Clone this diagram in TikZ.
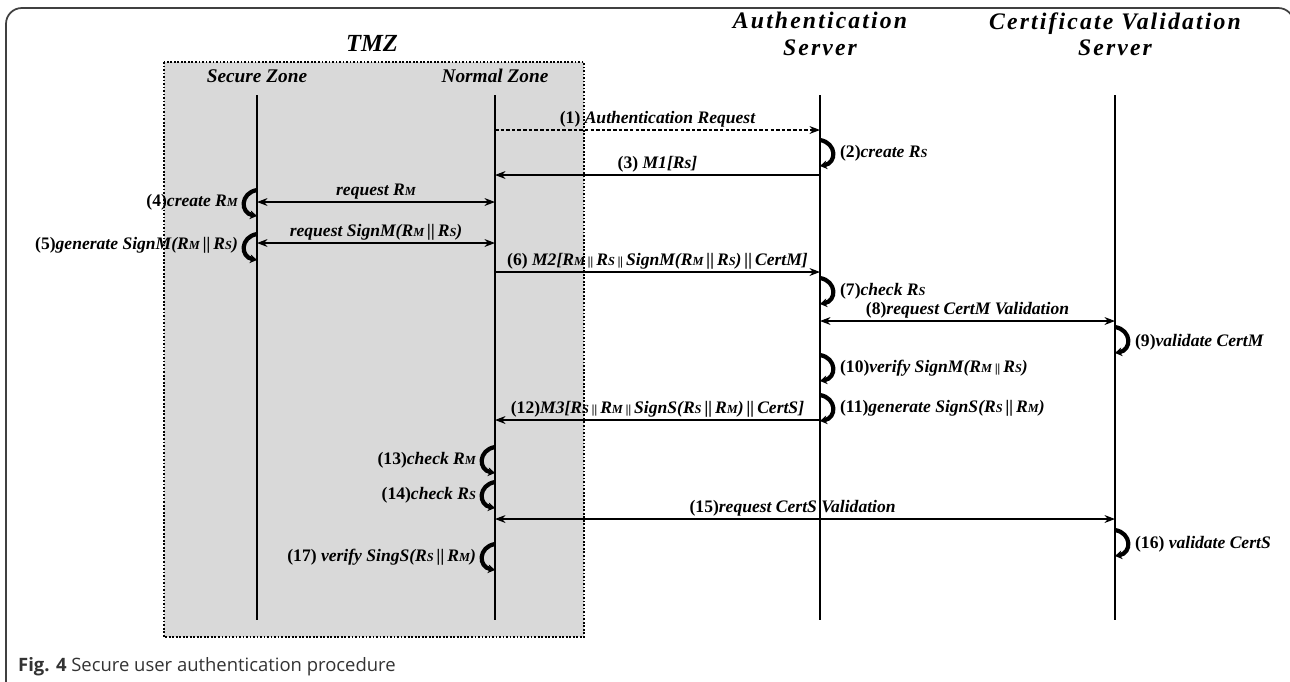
\documentclass[tikz,border=0pt]{standalone}
\usepackage{fontspec}
\setmainfont{Liberation Serif}
\setsansfont{Open Sans}
\newfontfamily\hdfont[LetterSpace=9]{Liberation Serif}
\usepackage{tikz}
\usetikzlibrary{arrows.meta}

\newcommand{\sml}[1]{{\fontsize{7}{7}\selectfont #1}}
\newcommand{\RM}{R\sml{M}}
\newcommand{\RS}{R\sml{S}}
\newcommand{\conc}{\,||\,}
\newcommand{\sconc}{\,{\fontsize{7}{7}\selectfont||}\,}

\tikzset{
  lifeline/.style={line width=1.1pt},
  msg/.style={line width=0.6pt},
  selfloop/.style={line width=2.4pt,-{Stealth[length=4pt,width=5pt]}},
  lbl/.style={font=\bfseries\itshape\fontsize{10}{12}\selectfont,inner sep=1pt},
  hdr/.style={font=\hdfont\bfseries\itshape\fontsize{13.5}{15}\selectfont,align=center},
  zone/.style={font=\bfseries\itshape\fontsize{11}{13}\selectfont}
}

\begin{document}
\begin{tikzpicture}[x=0.02cm,y=-0.02cm,>={Stealth[length=6pt,width=4.5pt]}]
  \useasboundingbox (0,0) rectangle (1290,681);

  % frame
  \draw[line width=1pt,black!75,rounded corners=9pt] (6,690) -- (6,8) -- (1294,8) -- (1294,690);

  % TMZ box
  \draw[fill=black!15,line width=1pt,dash pattern=on 1pt off 1pt] (164,62) rectangle (584,637);
  \node[font=\bfseries\itshape\fontsize{14}{16}\selectfont] (tmz) at (372,43) {TMZ};

  % lifelines
  \coordinate (SZ) at (257,95);  \coordinate (SZe) at (257,620);
  \coordinate (NZ) at (495,95);  \coordinate (NZe) at (495,620);
  \coordinate (AS) at (820,95);  \coordinate (ASe) at (820,620);
  \coordinate (CV) at (1115,95); \coordinate (CVe) at (1115,620);

  \node[zone] (sz) at (257,76) {Secure Zone};
  \node[zone] (nz) at (495,76) {Normal Zone};
  \node[hdr] (as) at (820,34) {Authentication\\Server};
  \node[hdr] (cv) at (1115,34) {Certificate Validation\\Server};

  \draw[lifeline] (SZ) -- (SZe);
  \draw[lifeline] (NZ) -- (NZe);
  \draw[lifeline] (AS) -- (ASe);
  \draw[lifeline] (CV) -- (CVe);

  % messages
  \draw[msg,->,dash pattern=on 2pt off 1.2pt] (NZ|-0,130) -- node[lbl,above] (m1) {\textup{(1)} Authentication Request} (AS|-0,130);
  \draw[msg,->] (AS|-0,175) -- node[lbl,above] (m3) {\textup{(3)} M1[Rs]} (NZ|-0,175);
  \draw[msg,<->] (SZ|-0,202) -- node[lbl,above] (m4) {request \RM} (NZ|-0,202);
  \draw[msg,<->] (SZ|-0,243) -- node[lbl,above] (m5) {request SignM(\RM\conc\RS)} (NZ|-0,243);
  \draw[msg,->] (NZ|-0,272) -- node[lbl,above] (m6) {\textup{(6)} M2[\RM\sconc\RS\sconc SignM(\RM\conc\RS)\conc CertM]} (AS|-0,272);
  \draw[msg,<->] (AS|-0,321) -- node[lbl,above] (m8) {\textup{(8)}request CertM Validation} (CV|-0,321);
  \draw[msg,->] (AS|-0,420) -- node[lbl,above] (m12) {\textup{(12)}M3[\RS\sconc\RM\sconc SignS(\RS\conc\RM)\conc CertS]} (NZ|-0,420);
  \draw[msg,<->] (NZ|-0,519) -- node[lbl,above,pos=0.48] (m15) {\textup{(15)}request CertS Validation} (CV|-0,519);

  % self loops
  \foreach \l/\y in {AS/140,AS/278,CV/327,AS/355,AS/395,CV/530}
    \draw[selfloop] (\l|-0,\y) .. controls +(17,3) and +(17,-3) .. (\l|-0,\y+26);
  \foreach \l/\y in {SZ/190,SZ/234,NZ/447,NZ/482,NZ/544}
    \draw[selfloop] (\l|-0,\y) .. controls +(-17,3) and +(-17,-3) .. (\l|-0,\y+26);

  \node[lbl,anchor=west] (s2) at (838,153) {\textup{(2)}create \RS};
  \node[lbl,anchor=west] (s7) at (838,291) {\textup{(7)}check \RS};
  \node[lbl,anchor=west] (s9) at (1133,342) {\textup{(9)}validate CertM};
  \node[lbl,anchor=west] (s10) at (838,368) {\textup{(10)}verify SignM(\RM\sconc\RS)};
  \node[lbl,anchor=west] (s11) at (838,408) {\textup{(11)}generate SignS(\RS\conc\RM)};
  \node[lbl,anchor=west] (s16) at (1133,544) {\textup{(16)} validate CertS};

  \node[lbl,anchor=east] (s4) at (240,202) {\textup{(4)}create \RM};
  \node[lbl,anchor=east] (s5) at (240,245) {\textup{(5)}generate SignM(\RM\conc\RS)};
  \node[lbl,anchor=east] (s13) at (478,460) {\textup{(13)}check \RM};
  \node[lbl,anchor=east] (s14) at (478,495) {\textup{(14)}check \RS};
  \node[lbl,anchor=east] (s17) at (478,557) {\textup{(17)} verify SingS(\RS\conc\RM)};

  % caption
  \node[anchor=west,font=\sffamily\fontsize{10.5}{12}\selectfont,text=black!80] (cap) at (12,667)
    {\textbf{Fig. 4} Secure user authentication procedure};
\end{tikzpicture}
\end{document}
